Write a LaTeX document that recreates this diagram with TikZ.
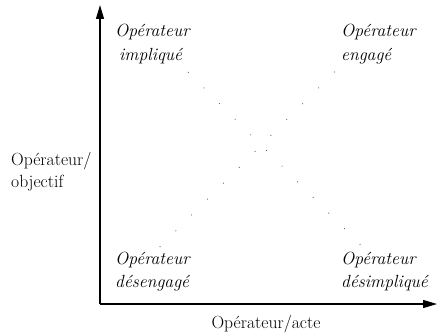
\documentclass[tikz,border=0pt]{standalone}
\usetikzlibrary{arrows.meta,calc}
\begin{document}
\begin{tikzpicture}[x=1pt,y=-1pt,
  axis/.style={line width=1.2pt,-{Triangle[length=14pt,width=8pt]}},
  quad/.style={inner sep=0pt,anchor=base west,align=left,font=\fontsize{17.6}{23.5}\selectfont\itshape},
  lab/.style={inner sep=0pt,anchor=base west,align=left,font=\fontsize{17.6}{22}\selectfont},
  dotm/.style={fill=black!75}]
\useasboundingbox (0,0) rectangle (438,334);
\coordinate (O) at (100,304);
\coordinate (ytip) at (100,5);
\coordinate (xtip) at (437,304);
\draw[axis] (O) -- (ytip);
\draw[axis] (O) -- (xtip);
\coordinate (a1) at (188.3,72.3);
\coordinate (a2) at (360,244.3);
\coordinate (b1) at (160,246.7);
\coordinate (b2) at (334.3,72);
\foreach \i in {0,...,11} {
  \fill[dotm] ($(a1)!\i/11!(a2)$) circle (0.55pt);
  \fill[dotm] ($(b1)!\i/11!(b2)$) circle (0.55pt);
}
\node[quad] (tl) at (115,60.5) {Opérateur\\\hspace{4pt}impliqué};
\node[quad] (tr) at (341,60.5) {Opérateur\\engagé};
\node[quad] (bl) at (115,287.5) {Opérateur\\désengagé};
\node[quad] (br) at (341,287.5) {Opérateur\\désimpliqué};
\node[lab] (ylab) at (11,187) {Opérateur/\\objectif};
\node[lab,anchor=base] (xlab) at (266,328) {Opérateur/acte};
\end{tikzpicture}
\end{document}
